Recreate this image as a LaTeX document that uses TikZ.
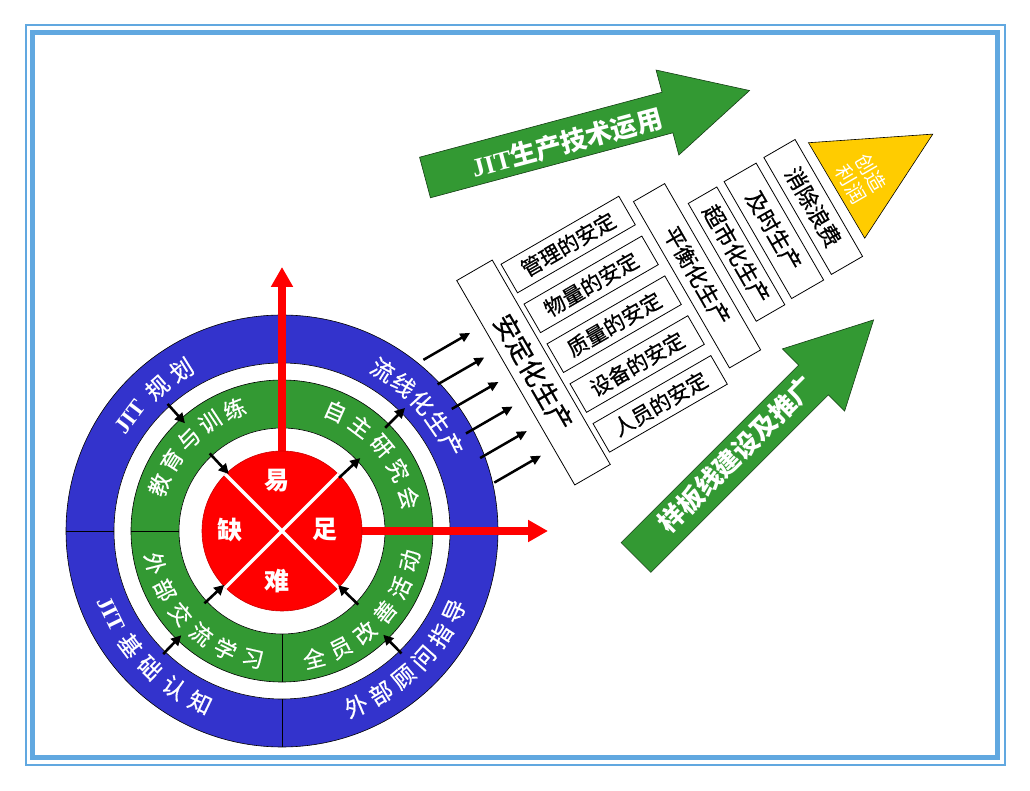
\documentclass[tikz,border=0pt]{standalone}
\usepackage{fontspec}
\setmainfont{Liberation Serif}
\newfontfamily\cjk{Noto Sans CJK SC}
\newfontfamily\cjkm[FakeBold=0.6]{Noto Sans CJK SC}
\newfontfamily\tnr{Liberation Serif}
\usetikzlibrary{arrows.meta,calc}
\definecolor{ringblue}{RGB}{51,51,204}
\definecolor{ringgreen}{RGB}{51,153,51}
\definecolor{corered}{RGB}{255,0,0}
\definecolor{tipyellow}{RGB}{255,204,0}
\definecolor{framebl}{RGB}{97,168,224}
\definecolor{arrgreen}{RGB}{51,153,51}
\newcommand\fsz[1]{\fontsize{#1}{#1}\selectfont}
\begin{document}
\begin{tikzpicture}[x=1pt,y=1pt,
  ringtxt/.style={text=white,inner sep=0pt},
  bluetxt/.style={ringtxt,font=\cjkm\fsz{23}},
  greentxt/.style={ringtxt,font=\cjkm\fsz{22}},
  jittxt/.style={ringtxt,font=\tnr\bfseries\fsz{23}},
  redtxt/.style={text=white,inner sep=0pt,font=\cjk\bfseries\fsz{25}},
  ringline/.style={black,line width=0.6pt},
  smallarr/.style={-{Triangle[length=10pt,width=10pt]},line width=2.6pt,black},
  redarr/.style={-{Triangle[length=20pt,width=21pt]},line width=8pt,corered},
  sbox/.style={draw=black,line width=0.8pt,fill=white,inner sep=0pt,minimum width=136pt,minimum height=33pt,font=\cjkm\fsz{21}},
  vbox/.style={draw=black,line width=0.8pt,fill=white,inner sep=0pt,rotate=-90,font=\cjkm\fsz{22}},
  bigarrow/.style={fill=arrgreen,draw=black!60!arrgreen,line width=0.6pt},
  arrtxt/.style={text=white,inner sep=0pt,font=\cjk\bfseries\fsz{26}},
  feed/.style={-{Triangle[length=10pt,width=9pt]},line width=2.5pt,black}
]
\useasboundingbox (0,0) rectangle (1030,790);
% frame
\draw[framebl,line width=2pt] (25.5,25.5) rectangle (1004.5,764.5);
\draw[framebl,line width=5pt] (32.5,32.5) rectangle (997.5,757.5);

\coordinate (C) at (282,259);
% rings
\fill[ringblue] (C) circle (216);
\fill[white] (C) circle (168);
\draw[ringline] (C) circle (216) (C) circle (168);
\fill[ringgreen] (C) circle (151);
\fill[white] (C) circle (103);
\draw[ringline] (C) circle (151) (C) circle (103);
\foreach \a in {0,90,180,270}{
  \draw[ringline] ($(C)+(\a:168)$) -- ($(C)+(\a:216)$);
  \draw[ringline] ($(C)+(\a:103)$) -- ($(C)+(\a:151)$);
}
% red arrows
\coordinate (upTip) at ($(C)+(0,264)$);
\coordinate (rtTip) at ($(C)+(266,0)$);
\draw[redarr] (C) -- (upTip);
\draw[redarr] (C) -- (rtTip);
% red core
\node[circle,fill=corered,draw=corered!80!black,line width=0.6pt,minimum size=160pt,inner sep=0pt] (core) at (C) {};
\draw[white,line width=3.5pt] (core.45) -- (core.225);
\draw[white,line width=3.5pt] (core.135) -- (core.315);
\node[redtxt] (yi) at ($(C)+(-5,50)$) {易};
\node[redtxt] (zu) at ($(C)+(43,2)$) {足};
\node[redtxt] (nan) at ($(C)+(-5,-50)$) {难};
\node[redtxt] (que) at ($(C)+(-52,1)$) {缺};

% blue ring text
\node[jittxt,rotate=143-90] (bAj) at ($(C)+(143:190)$) {JIT};
\foreach \a/\t [count=\i] in {131/规,122/划}
  {\node[bluetxt,rotate=\a-90] (bA\i) at ($(C)+(\a:190)$) {\t};}
\foreach \a/\t [count=\i] in {58/流,50.25/线,42.5/化,34.75/生,27/产}
  {\node[bluetxt,rotate=\a-90] (bB\i) at ($(C)+(\a:190)$) {\t};}
\foreach \a/\t [count=\i] in {-67/外,-58.6/部,-50.2/顾,-41.8/问,-33.4/指,-25/导}
  {\node[bluetxt,rotate=\a+90] (bC\i) at ($(C)+(\a:190)$) {\t};}
\node[jittxt,rotate=206+90] (bDj) at ($(C)+(206:190)$) {JIT};
\foreach \a/\t [count=\i] in {217/基,226/础,235.5/认,244.5/知}
  {\node[bluetxt,rotate=\a+90] (bD\i) at ($(C)+(\a:190)$) {\t};}

% green ring text
\foreach \a/\t [count=\i] in {159.4/教,147.4/育,135.4/与,123.4/训,111.3/练}
  {\node[greentxt,rotate=\a-90] (gA\i) at ($(C)+(\a:131)$) {\t};}
\foreach \a/\t [count=\i] in {66/自,53.2/主,40.4/研,27.6/究,14.7/会}
  {\node[greentxt,rotate=\a-90] (gB\i) at ($(C)+(\a:131)$) {\t};}
\foreach \a/\t [count=\i] in {-75.8/全,-63.3/员,-50.8/改,-38.2/善,-25.7/活,-13.1/动}
  {\node[greentxt,rotate=\a+90] (gC\i) at ($(C)+(\a:131)$) {\t};}
\foreach \a/\t [count=\i] in {194.3/外,206.8/部,219.3/交,231.9/流,244.4/学,257/习}
  {\node[greentxt,rotate=\a+90] (gD\i) at ($(C)+(\a:131)$) {\t};}

% small arrows in the gaps
\foreach \a/\ra/\rb [count=\i] in {132/171/145, 133/106/78, 43/78/107, 45/146/174, -45.7/171/145, -44/106/78, 226/171/145, 223/106/79}{
  \coordinate (sa\i) at ($(C)+(\a:\ra)$);
  \coordinate (sb\i) at ($(C)+(\a:\rb)$);
  \draw[smallarr] (sa\i) -- (sb\i);
}

% green big arrows
\begin{scope}[shift={(425,612.5)},rotate=15]
  \draw[bigarrow] (0,-21) -- (251,-21) -- (251,-44) -- (336,0) -- (251,44) -- (251,21) -- (0,21) -- cycle;
  \node[arrtxt,rotate=15] (topArrTxt) at (146,-3) {{\tnr\bfseries JIT}生产技术运用};
\end{scope}
\begin{scope}[shift={(636,232.5)},rotate=45]
  \draw[bigarrow] (0,-21) -- (251,-21) -- (251,-44) -- (336,0) -- (251,44) -- (251,21) -- (0,21) -- cycle;
  \node[arrtxt,rotate=45] (botArrTxt) at (144,2) {样板线建设及推广};
\end{scope}

% right-hand structure
\begin{scope}[shift={(533.5,417.5)},rotate=30,transform shape]
  \node[vbox,minimum width=236pt,minimum height=41pt,font=\cjkm\fsz{26}] (stab) at (0,0) {安定化生产};
  \node[sbox] (m1) at (94,93.5) {管理的安定};
  \node[sbox] (m2) at (94,47.5) {物量的安定};
  \node[sbox] (m3) at (94,1.5) {质量的安定};
  \node[sbox] (m4) at (94,-44.5) {设备的安定};
  \node[sbox] (m5) at (94,-90.5) {人员的安定};
  \node[vbox,minimum width=192pt,minimum height=36pt] (bal) at (190,2) {平衡化生产};
  \node[vbox,minimum width=136pt,minimum height=33pt] (sup) at (235,1) {超市化生产};
  \node[vbox,minimum width=135pt,minimum height=37pt] (jit) at (279,2.5) {及时生产};
  \node[vbox,minimum width=135pt,minimum height=36pt] (waste) at (325,3.5) {消除浪费};
  \draw[fill=tipyellow,draw=black,line width=0.6pt] (353,61.5) -- (465,6.8) -- (354,-49.3) -- cycle;
  \node[rotate=-90,text=white,align=center,inner sep=0pt,font=\cjk\fsz{20}] (profit) at (381,4) {创造\\[3pt]利润};
  \foreach \k in {0,...,5}{
    \coordinate (ft\k) at (-89,{66-28.35*\k});
    \coordinate (fh\k) at (-35,{66-28.35*\k});
    \draw[feed] (ft\k) -- (fh\k);
  }
\end{scope}
\end{tikzpicture}
\end{document}
